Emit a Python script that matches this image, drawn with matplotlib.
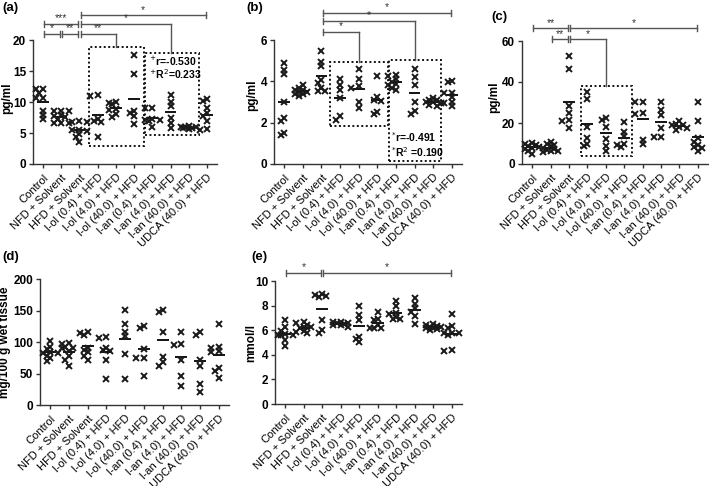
import numpy as np
import matplotlib
matplotlib.use('Agg')
import matplotlib.pyplot as plt
from matplotlib.patches import Rectangle

plt.rcParams['font.family'] = ['Liberation Sans', 'DejaVu Sans']

W, H = 709, 486

groups = ['Control', 'NFD + Solvent', 'HFD + Solvent', 'l-ol (0.4) + HFD', 'l-ol (4.0) + HFD',
          'l-ol (40.0) + HFD', 'l-an (0.4) + HFD', 'l-an (4.0) + HFD', 'l-an (40.0) + HFD',
          'UDCA (40.0) + HFD']

# (a) pg/ml
a_vals = [
    [12.05, 12.05, 11.5, 10.6, 10.65, 8.55, 7.9, 7.2],
    [8.55, 8.5, 8.55, 7.9, 7.7, 7.5, 7.3, 6.6, 6.55, 6.6],
    [6.9, 6.7, 6.8, 5.5, 5.4, 5.5, 4.8, 4.3, 3.6],
    [11.0, 11.1, 7.3, 6.7, 7.0, 4.4],
    [9.9, 9.6, 10.0, 8.9, 8.7, 8.1, 7.5],
    [17.6, 14.5, 8.5, 8.2, 7.8, 6.5],
    [9.1, 9.0, 7.1, 7.1, 7.2, 6.0, 6.9],
    [11.2, 10.05, 9.35, 7.4, 6.55, 5.75],
    [6.1, 6.0, 5.9, 5.9, 5.8, 5.8, 5.7],
    [10.5, 10.2, 9.0, 8.2, 7.7, 7.0, 5.7, 5.5],
]
# (b) pg/ml
b_vals = [
    [4.55, 4.87, 4.34, 3.0, 2.24, 2.1, 1.4, 1.48],
    [3.8, 3.7, 3.6, 3.6, 3.5, 3.5, 3.4, 3.4, 3.3],
    [5.48, 4.74, 4.95, 4.06, 3.94, 3.7, 3.55, 3.55],
    [3.6, 3.8, 4.1, 3.2, 2.15, 2.3],
    [4.6, 4.1, 3.75, 3.7, 3.0, 2.7],
    [4.26, 3.1, 3.05, 3.25, 2.4, 2.5],
    [4.3, 4.25, 4.1, 3.95, 3.8, 3.7, 3.6, 3.85],
    [4.6, 4.2, 3.8, 3.0, 2.4, 2.55],
    [3.2, 3.1, 3.1, 3.0, 3.0, 2.95, 2.85, 2.8],
    [3.95, 4.02, 3.42, 3.45, 3.22, 3.0, 2.97, 2.8],
]
# (c) pg/ml
c_vals = [
    [10.2, 9.6, 9.3, 8.8, 8.2, 7.9, 7.2, 6.4, 5.0],
    [10.8, 9.8, 9.5, 8.6, 8.0, 7.4, 6.8, 6.3, 6.1, 6.0],
    [52.7, 46.1, 28.2, 24.7, 21.4, 21.1, 17.4],
    [35.2, 31.6, 17.9, 12.8, 8.8, 9.6],
    [22.5, 21.7, 17.9, 12.0, 8.8, 6.5],
    [20.3, 15.7, 13.6, 9.6, 8.4, 9.2],
    [24.7, 24.3, 30.3, 30.3, 9.7, 11.7],
    [30.3, 26.3, 23.8, 17.4, 13.0, 13.3],
    [21.1, 19.5, 19.0, 18.8, 18.2, 17.5, 16.5],
    [30.3, 21.1, 12.5, 10.9, 9.2, 8.1, 6.5, 8.0],
]
# (d) mg/100 g wet tissue
d_vals = [
    [101, 92, 89, 84, 83, 82, 78, 75, 70],
    [97, 98, 92, 91, 90, 85, 77, 72, 62],
    [116, 110.5, 114.7, 90.5, 88, 84, 78, 71],
    [108, 106, 90.5, 88, 85, 71, 42],
    [151, 129, 116, 109.5, 81.5, 40.5],
    [126, 122.6, 89.5, 74.7, 74.7, 46],
    [151, 148, 116, 76, 68, 62],
    [116, 97, 96, 71, 46, 30.5],
    [110.5, 116, 71, 62, 34, 21],
    [129, 90.5, 92, 84, 85, 59, 53.7, 43],
]
# (e) mmol/l
e_vals = [
    [6.85, 6.25, 5.95, 5.65, 5.6, 5.7, 5.65, 5.2, 4.7],
    [6.55, 6.45, 6.65, 6.25, 6.15, 6.3, 5.9, 5.75, 5.85],
    [8.89, 8.7, 8.97, 8.78, 6.86, 5.8, 6.04],
    [6.7, 6.65, 6.6, 6.55, 6.5, 6.45, 6.4, 6.3],
    [7.97, 7.26, 6.86, 5.45, 5.31, 5.04],
    [7.48, 6.94, 6.8, 6.4, 6.2, 6.2, 6.2],
    [8.35, 7.97, 7.4, 7.35, 7.07, 6.88, 6.94],
    [8.62, 8.16, 7.8, 7.48, 7.15, 6.53],
    [6.5, 6.4, 6.35, 6.3, 6.25, 6.2, 6.15, 6.1, 6.05],
    [7.34, 6.34, 6.18, 5.77, 5.77, 5.64, 5.8, 4.31, 4.42],
]

fig = plt.figure(figsize=(W / 100, H / 100), dpi=100)


def make_axes(x0, x1, ytop, ybot):
    return fig.add_axes([x0 / W, 1 - ybot / H, (x1 - x0) / W, (ybot - ytop) / H])


def style(ax, ylim, yticks, ylabel, lab_x, lab_y):
    ax.set_xlim(-0.55, 9.55)
    ax.set_ylim(*ylim)
    ax.set_yticks(yticks)
    ax.set_xticks(range(len(groups)))
    ax.set_xticklabels(groups, rotation=45, ha='right', rotation_mode='anchor', fontsize=8)
    for lab in ax.get_yticklabels():
        lab.set_fontweight('bold')
        lab.set_fontsize(8.5)
    for s in ['top', 'right']:
        ax.spines[s].set_visible(False)
    for s in ['left', 'bottom']:
        ax.spines[s].set_color('#333333')
        ax.spines[s].set_linewidth(1.0)
    ax.tick_params(length=3, width=1, color='#333333', pad=2)
    ax.tick_params(axis='x', pad=3)
    ax.patch.set_alpha(0)
    ax.set_ylabel(ylabel, fontsize=8.5, fontweight='bold')
    ax.yaxis.set_label_coords(lab_x / W, 1 - lab_y / H, transform=fig.transFigure)


def swarm(ax, vals, pxc, pxu):
    # simple deterministic scatter spread, similar values pushed sideways
    step = 0.2
    cands = [0, -step, step, -2 * step, 2 * step, -0.5 * step, 0.5 * step, -1.5 * step, 1.5 * step]
    for i, v in enumerate(vals):
        v = np.asarray(v, float)
        order = np.argsort(-v)
        placed = []
        xs = np.zeros(len(v))
        for k in order:
            best, best_d = 0, -1
            for off in cands:
                d = min([np.hypot((off - po) * pxc, (v[k] - pv) * pxu) for po, pv in placed],
                        default=99)
                if d >= 4.0:
                    best = off
                    break
                if d > best_d:
                    best, best_d = off, d
            placed.append((best, v[k]))
            xs[k] = i + best
        ax.plot(xs, v, 'x', color='#1a1a1a', ms=4.0, mew=1.4, clip_on=False, zorder=3)
        ax.hlines(v.mean(), i - 0.32, i + 0.32, color='black', lw=1.3, zorder=2)


def bracket(ax, i0, i1, y, stars, pxu, drop=None):
    t = 3 / pxu
    kw = dict(color='#555555', lw=1.0, clip_on=False)
    x0 = i0 + 0.06
    x1 = i1 - 0.06 if drop is None else i1
    ax.plot([x0, x1], [y, y], **kw)
    ax.plot([x0, x0], [y - t, y + t], **kw)
    if drop is None:
        ax.plot([x1, x1], [y - t, y + t], **kw)
    else:
        ax.plot([x1, x1], [y, drop], **kw)
    ax.text((x0 + x1) / 2, y + 0.5 / pxu, stars, ha='center', va='bottom', fontsize=7.5,
            color='#333333')


def dotted_box(ax, x0, x1, y0, y1):
    ax.add_patch(Rectangle((x0, y0), x1 - x0, y1 - y0, fill=False, ls=(0, (1, 1.3)), lw=1.4,
                           ec='#111111', clip_on=False, zorder=1))


# panel a
ax = make_axes(33, 217, 40, 164)
pxu = 124 / 20
style(ax, (0, 20), [0, 5, 10, 15, 20], 'pg/ml', 13, 98)
swarm(ax, a_vals, 18.2, pxu)
bracket(ax, 2, 9, 24.0, '*', pxu)
bracket(ax, 0, 2, 22.6, '***', pxu)
bracket(ax, 2, 7, 22.6, '*', pxu, drop=17.9)
bracket(ax, 0, 1, 21.0, '*', pxu)
bracket(ax, 1, 2, 21.0, '**', pxu)
bracket(ax, 2, 4, 21.0, '**', pxu, drop=18.9)
dotted_box(ax, 2.53, 5.55, 2.9, 18.9)
dotted_box(ax, 5.6, 8.57, 4.7, 17.9)
ax.text(5.8, 16.6, r'$^{+}$r=-0.530', fontsize=7.5, fontweight='bold', va='center')
ax.text(5.8, 14.5, r'$^{+}$R$^{2}$=0.233', fontsize=7.5, fontweight='bold', va='center')

# panel b
ax = make_axes(274, 462, 40, 164)
pxu = 124 / 6
style(ax, (0, 6), [0, 2, 4, 6], 'pg/ml', 258, 95)
swarm(ax, b_vals, 18.67, pxu)
bracket(ax, 2, 9, 7.31, '*', pxu)
bracket(ax, 2, 7, 6.92, '*', pxu, drop=5.03)
bracket(ax, 2, 4, 6.39, '*', pxu, drop=4.93)
dotted_box(ax, 2.46, 5.57, 1.84, 4.93)
dotted_box(ax, 5.62, 8.41, 0.15, 5.03)
ax.text(5.75, 1.31, r'$^{*}$r=-0.491', fontsize=7.5, fontweight='bold', va='center')
ax.text(5.75, 0.58, r'$^{*}$R$^{2}$ =0.190', fontsize=7.5, fontweight='bold', va='center')

# panel c
ax = make_axes(522, 708, 41, 164)
pxu = 123 / 60
style(ax, (0, 60), [0, 20, 40, 60], 'pg/ml', 500, 97)
swarm(ax, c_vals, 18.6, pxu)
bracket(ax, 0, 2, 66.2, '**', pxu)
bracket(ax, 2, 9, 66.2, '*', pxu)
bracket(ax, 1, 2, 60.8, '**', pxu)
bracket(ax, 2, 4, 60.8, '*', pxu, drop=38.0)
dotted_box(ax, 2.65, 5.45, 3.9, 38.0)

# panel d
ax = make_axes(40, 229, 279, 405)
pxu = 126 / 200
style(ax, (0, 200), [0, 50, 100, 150, 200], 'mg/100 g wet tissue', 11, 342)
swarm(ax, d_vals, 18.8, pxu)

# panel e
ax = make_axes(275, 462, 281, 404)
pxu = 123 / 10
style(ax, (0, 10), [0, 2, 4, 6, 8, 10], 'mmol/l', 257, 343)
swarm(ax, e_vals, 18.63, pxu)
bracket(ax, 0, 2, 10.65, '*', pxu)
bracket(ax, 2, 9, 10.65, '*', pxu)

for lab, x, y in [('(a)', 2, 8), ('(b)', 246, 8), ('(c)', 491, 17), ('(d)', 2, 257), ('(e)', 251, 257)]:
    fig.text(x / W, 1 - y / H, lab, fontsize=9.5, fontweight='bold', va='center', ha='left')

fig.savefig('out.png', dpi=100)
